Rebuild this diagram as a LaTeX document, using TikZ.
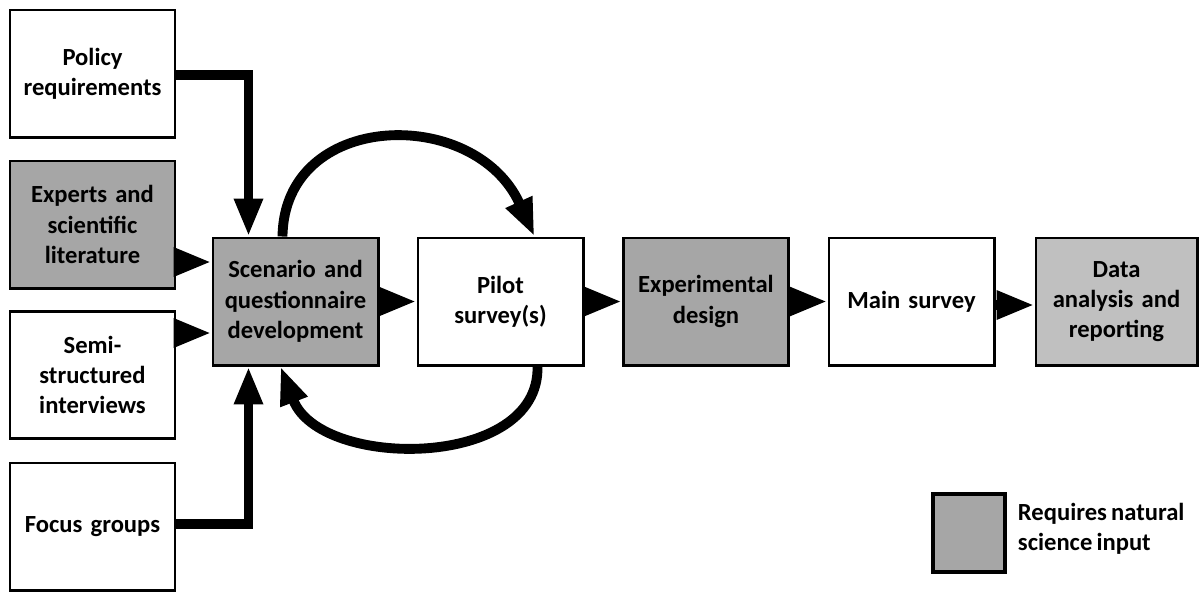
\documentclass[tikz,border=0pt]{standalone}
\usepackage{fontspec}
\setmainfont{Carlito}
\usetikzlibrary{arrows.meta,calc}
\definecolor{natgray}{HTML}{A6A6A6}
\definecolor{litegray}{HTML}{C0C0C0}
\newcommand{\boxfont}{\bfseries\fontsize{17.5}{21.5}\selectfont\spaceskip=0.17em plus 0.02em minus 0.02em\relax}
\tikzset{
  stagebox/.style={draw, line width=2.1pt, minimum width=4.125cm, minimum height=3.175cm,
    inner sep=0pt, align=center, text width=3.9cm, font=\boxfont},
  natbox/.style={stagebox, fill=natgray},
  flow/.style={line width=7pt, -{Triangle[width=19pt,length=27pt]}},
}
\begin{document}
\begin{tikzpicture}[x=0.025cm, y=-0.025cm]
		%%%%% START %%%%%
		\useasboundingbox (0,0) rectangle (1199,595);
		
		% inputs
		\node[stagebox] (policy) at (92.5, 73.5) {Policy\\requirements};
		\node[natbox] (experts) at (92.5, 224.5) {Experts and\\scientific\\literature};
		\node[stagebox] (semi) at (92.5, 375) {Semi-\\structured\\interviews};
		\node[stagebox] (focus) at (92.5, 526.5) {Focus groups};
		
		% main chain
		\node[natbox] (scenario) at (295.5, 301.5) {Scenario and\\questionnaire\\development};
		\node[stagebox] (pilot) at (500.5, 301.5) {Pilot\\survey(s)};
		\node[natbox] (design) at (706, 301.5) {Experimental\\design};
		\node[stagebox] (main) at (911.5, 301.5) {Main survey};
		\node[stagebox, fill=litegray, minimum width=4.025cm] (data) at (1116.5, 301.5) {Data\\analysis and\\reporting};
		
		% legend
		\node[draw, line width=2.6pt, fill=natgray, minimum width=1.8cm, minimum height=1.95cm] (key) at (969, 533) {};
		\node[anchor=west, align=left, font=\boxfont] (keytext) at (1013, 529) {Requires natural\\science input};
		
		% connectors
		\draw[flow] (policy.east |- 0,75) -| ($(scenario.north west)+(37,0)$);
		\draw[flow] (focus.east |- 0,524) -| ($(scenario.south west)+(37,0)$);
		\draw[flow] (experts.east |- 0,262) -- (scenario.west |- 0,262);
		\draw[flow] (semi.east |- 0,333) -- (scenario.west |- 0,333);
		\draw[flow] (scenario) -- (pilot);
		\draw[flow] (pilot) -- (design);
		\draw[flow] (design) -- (main);
		\draw[flow] (main.east |- 0,305) -- (data.west |- 0,305);
		
		% feedback loops
		\draw[flow] ($(scenario.north west)+(71,0)$) .. controls (284,110) and (475,105) .. ($(pilot.north west)+(118,0)$);
		\draw[flow] ($(pilot.south west)+(121,0)$) .. controls (540,470) and (320,470) .. ($(scenario.south west)+(69,0)$);
		
		%%%%% END %%%%%
\end{tikzpicture}
\end{document}
